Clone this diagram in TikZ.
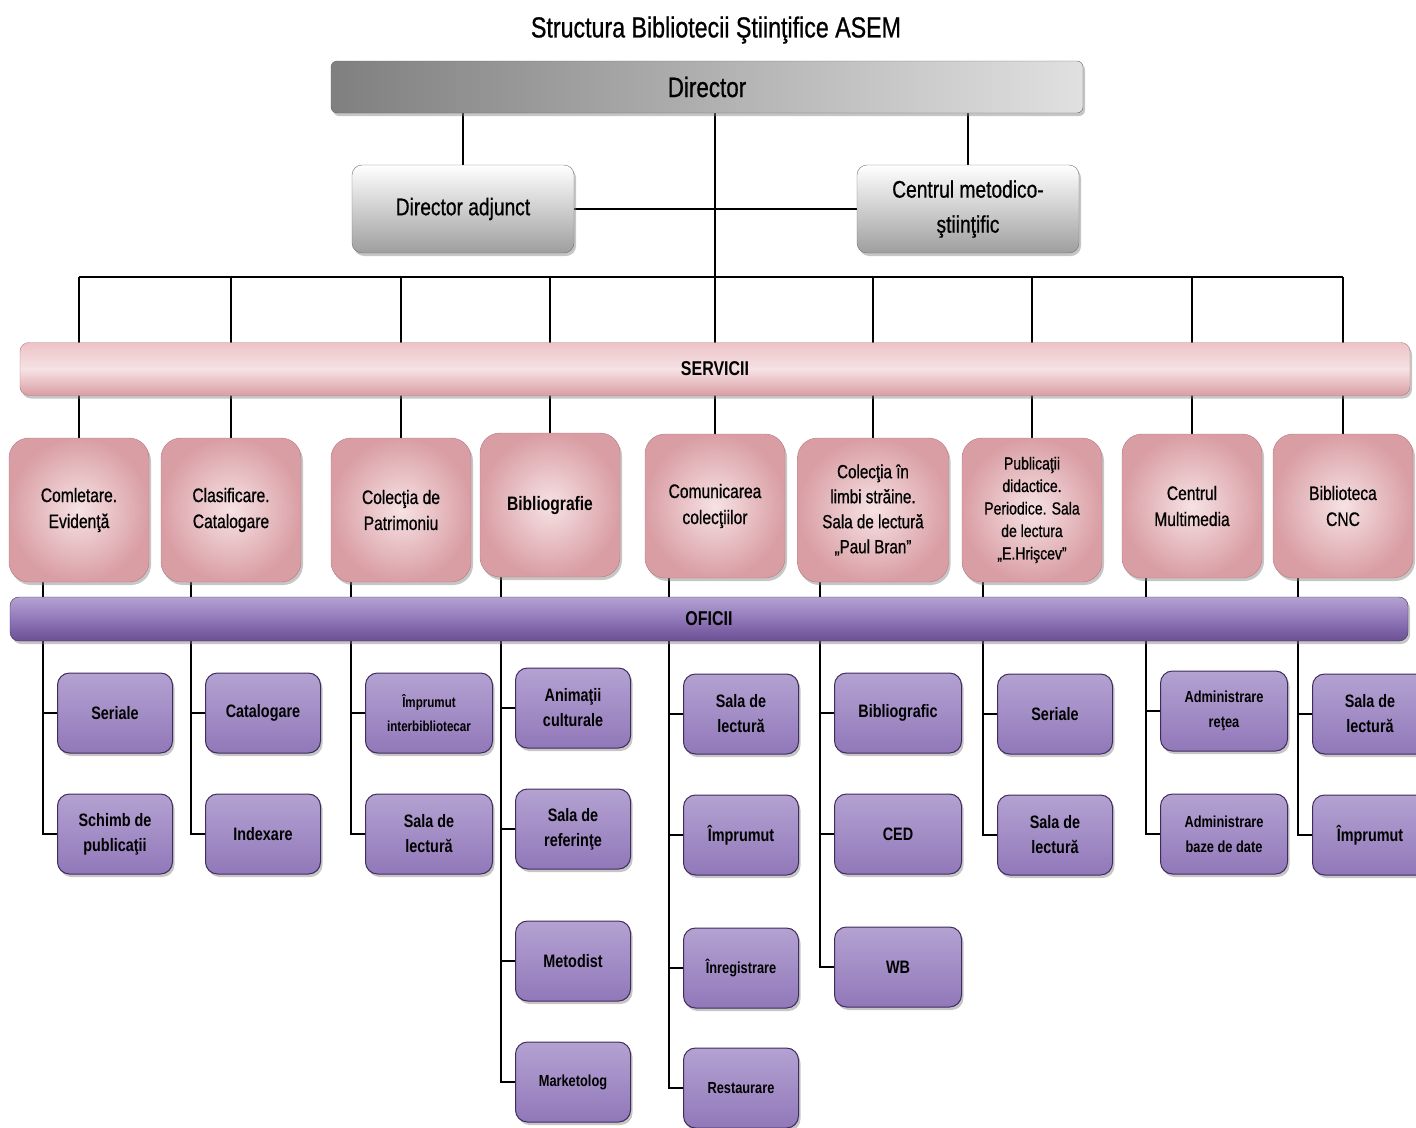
\documentclass[tikz,border=0pt]{standalone}
\usepackage{fontspec}
\setmainfont{Liberation Sans}[FakeStretch=0.8]
\newfontfamily\medfont{Liberation Sans}[FakeStretch=0.8, FakeBold=0.7]
\usetikzlibrary{shadows,backgrounds}

\definecolor{pinklight}{HTML}{F6E2E4}
\definecolor{pinkmid}{HTML}{ECC3C7}
\definecolor{pinkdark}{HTML}{D99EA4}
\definecolor{pinkedge}{HTML}{B97880}
\definecolor{purplight}{HTML}{B4A2D2}
\definecolor{purpmid}{HTML}{9178B9}
\definecolor{purpdark}{HTML}{6A4F94}
\definecolor{purpedge}{HTML}{3E2C5C}

\tikzset{
  link/.style={draw=black, line width=1.5pt},
  shade/.style={drop shadow={shadow xshift=2pt, shadow yshift=-3pt, opacity=.45}},
  director/.style={draw=black!60, rounded corners=6pt, left color=black!50, right color=black!12,
    minimum width=752pt, minimum height=52pt, inner sep=0pt, shade,
    font=\medfont\fontsize{28}{32}\selectfont},
  deputy/.style={draw=black!55, rounded corners=10pt, top color=white, bottom color=black!38,
    minimum width=222pt, minimum height=88pt, inner sep=0pt, align=center, shade,
    font=\medfont\fontsize{24}{35}\selectfont},
  servbar/.style={draw=pinkedge, rounded corners=9pt, top color=pinkmid, bottom color=pinkdark,
    middle color=pinklight, minimum width=1390pt, minimum height=53pt, inner sep=0pt, shade,
    font=\bfseries\fontsize{20}{24}\selectfont},
  service/.style={draw=pinkedge, rounded corners=20pt, shading=radial, inner color=pinklight,
    outer color=pinkdark, minimum width=140pt, minimum height=144pt, inner sep=0pt,
    align=center, shade, font=\medfont\fontsize{19.5}{26}\selectfont},
  oficbar/.style={draw=purpedge, rounded corners=9pt, top color=purplight, bottom color=purpdark,
    middle color=purpmid, minimum width=1398pt, minimum height=44pt, inner sep=0pt, shade,
    font=\bfseries\fontsize{20}{24}\selectfont},
  office/.style={draw=purpedge, line width=1pt, rounded corners=12pt, top color=purplight,
    bottom color=purpmid, minimum width=115pt, minimum height=80pt, inner sep=0pt,
    align=center, shade, font=\bfseries\fontsize{18}{25}\selectfont},
  small/.style={font=\bfseries\fontsize{16}{25}\selectfont},
  tiny/.style={font=\bfseries\fontsize{14.5}{24}\selectfont}
}

\begin{document}
\begin{tikzpicture}[x=1pt,y=-1pt]
  \useasboundingbox (0,0) rectangle (1416,1127);

  % top
  \node[font=\medfont\fontsize{29}{32}\selectfont] (title) at (716,30) {Structura Bibliotecii Ştiinţifice ASEM};
  \node[director] (dir) at (707,87) {Director};
  \node[deputy] (adj) at (463,209) {Director adjunct};
  \node[deputy] (cms) at (968,209) {Centrul metodico-\\ştiinţific};

  % bars
  \node[servbar] (serv) at (715,369) {SERVICII};
  \node[oficbar] (ofic) at (709,619) {OFICII};

  % servicii
  \node[service] (s1) at (79,510) {Comletare.\\Evidenţă};
  \node[service] (s2) at (231,510) {Clasificare.\\Catalogare};
  \node[service] (s3) at (401,510) {Colecţia de\\Patrimoniu};
  \node[service, font=\bfseries\fontsize{19.5}{26}\selectfont] (s4) at (550,505) {Bibliografie};
  \node[service] (s5) at (715,506) {Comunicarea\\colecţiilor};
  \node[service, minimum width=151pt, font=\medfont\fontsize{19}{25}\selectfont] (s6) at (873,510)
    {Colecţia în\\limbi străine.\\Sala de lectură\\„Paul Bran”};
  \node[service, font=\medfont\fontsize{17.5}{22.5}\selectfont] (s7) at (1032,510)
    {Publicaţii\\didactice.\\Periodice. Sala\\de lectura\\„E.Hrişcev”};
  \node[service] (s8) at (1192,506) {Centrul\\Multimedia};
  \node[service] (s9) at (1343,506) {Biblioteca\\CNC};

  % oficii
  \node[office] (o11) at (115,713) {Seriale};
  \node[office] (o12) at (115,834) {Schimb de\\publicaţii};
  \node[office] (o21) at (263,713) {Catalogare};
  \node[office] (o22) at (263,834) {Indexare};
  \node[office, minimum width=127pt, tiny] (o31) at (429,713) {Împrumut\\interbibliotecar};
  \node[office, minimum width=127pt] (o32) at (429,834) {Sala de\\lectură};
  \node[office] (o41) at (573,708) {Animaţii\\culturale};
  \node[office] (o42) at (573,829) {Sala de\\referinţe};
  \node[office] (o43) at (573,961) {Metodist};
  \node[office, small] (o44) at (573,1082) {Marketolog};
  \node[office] (o51) at (741,714) {Sala de\\lectură};
  \node[office] (o52) at (741,835) {Împrumut};
  \node[office, small] (o53) at (741,968) {Înregistrare};
  \node[office, small] (o54) at (741,1088) {Restaurare};
  \node[office, minimum width=127pt] (o61) at (898,713) {Bibliografic};
  \node[office, minimum width=127pt] (o62) at (898,834) {CED};
  \node[office, minimum width=127pt] (o63) at (898,967) {WB};
  \node[office] (o71) at (1055,714) {Seriale};
  \node[office] (o72) at (1055,835) {Sala de\\lectură};
  \node[office, minimum width=127pt, small] (o81) at (1224,711) {Administrare\\reţea};
  \node[office, minimum width=127pt, small] (o82) at (1224,834) {Administrare\\baze de date};
  \node[office] (o91) at (1370,714) {Sala de\\lectură};
  \node[office] (o92) at (1370,835) {Împrumut};

  \begin{scope}[on background layer]
    \draw[link] (adj.north) -- (adj.north |- dir.south);
    \draw[link] (cms.north) -- (cms.north |- dir.south);
    \draw[link] (adj.east) -- (cms.west);
    \draw[link] (serv.north) -- (serv.north |- dir.south);
    \coordinate (bus) at (0,277);
    \draw[link] (s1.north |- bus) -- (s9.north |- bus);
    \foreach \s in {s1,s2,s3,s4,s5,s6,s7,s8,s9}
      \draw[link] (\s.north |- bus) -- (\s.north);
    \foreach \c/\last in {1/2,2/2,3/2,4/4,5/4,6/3,7/2,8/2,9/2} {
      \draw[link] ([xshift=-14pt]o\c1.west |- s\c.south) |- (o\c\last.west);
      \foreach \r in {1,...,\last}
        \draw[link] ([xshift=-14pt]o\c\r.west) -- (o\c\r.west);
    }
  \end{scope}
\end{tikzpicture}
\end{document}
